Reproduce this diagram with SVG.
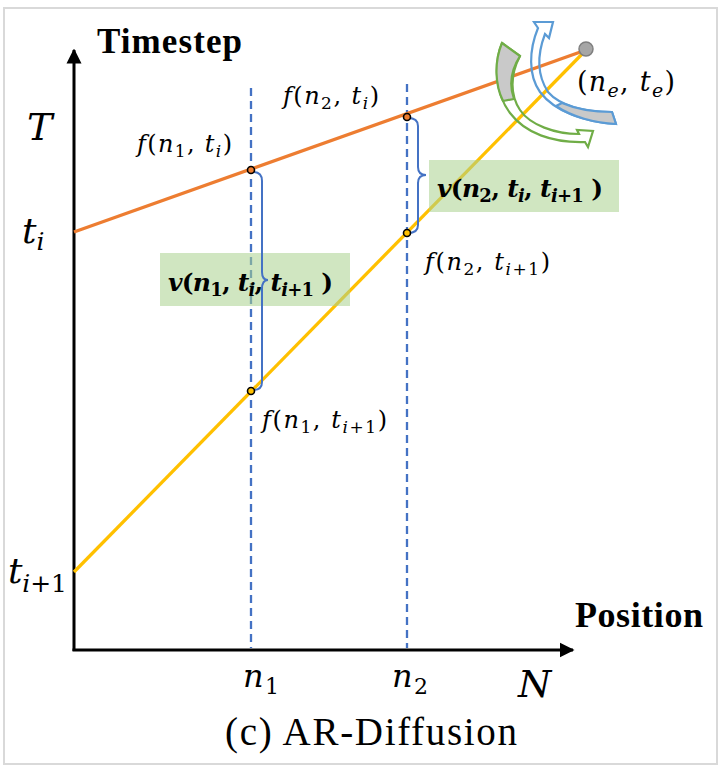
<svg xmlns="http://www.w3.org/2000/svg" width="724" height="766" viewBox="0 0 724 766">
<style>
.m{font-family:"DejaVu Serif","Liberation Serif",serif;fill:#000}
.it{font-style:italic}
.b{font-weight:bold}
.tt{font-family:"Liberation Serif","Times New Roman",serif;fill:#000}
.dash{stroke:#4472C4;stroke-width:2.3;stroke-dasharray:8 5;fill:none}
.brace{stroke:#4472C4;stroke-width:2;fill:none}
.pt{stroke:#000;stroke-width:1.6}
.box{fill:#A9D18E;opacity:0.55}
</style>
<defs>
<marker id="ah" viewBox="0 0 10 10" refX="9" refY="5" markerWidth="5" markerHeight="5.2" orient="auto" markerUnits="strokeWidth">
<path d="M0,0 L10,5 L0,10 Z" fill="#000"/>
</marker>
</defs>
<rect x="4" y="8" width="713" height="756" fill="#fff" stroke="#D9D9D9" stroke-width="2"/>

<g id="axes">
<line x1="74" y1="651" x2="74" y2="50" stroke="#000" stroke-width="3" marker-end="url(#ah)"/>
<line x1="72.5" y1="650" x2="573" y2="650" stroke="#000" stroke-width="3" marker-end="url(#ah)"/>
</g>

<g id="connectors">
<line class="dash" x1="251" y1="88" x2="251" y2="648"/>
<line class="dash" x1="407" y1="84" x2="407" y2="648"/>
<line x1="74" y1="232" x2="586" y2="50" stroke="#ED7D31" stroke-width="3.3"/>
<line x1="74" y1="572" x2="586" y2="50" stroke="#FFC000" stroke-width="3.3"/>
</g>

<g id="box1"><rect class="box" x="160" y="253" width="190" height="53"/></g>
<g id="box2"><rect class="box" x="429" y="160" width="190" height="52"/></g>

<g id="braces">
<path class="brace" d="M253,172 Q262,172 262,181 L262,272 Q262,280 268,280 Q262,280 262,289 L262,382 Q262,390 253,390"/>
<path class="brace" d="M408,118 Q418,118 418,126 L418,167 Q418,175 426,175 Q418,175 418,183 L418,225 Q418,233 408,233"/>
</g>

<g id="points">
<circle class="pt" cx="251" cy="170" r="3.5" fill="#ED7D31"/>
<circle class="pt" cx="407" cy="117" r="3.5" fill="#ED7D31"/>
<circle class="pt" cx="251" cy="391" r="3.5" fill="#FFC000"/>
<circle class="pt" cx="407" cy="233" r="3.5" fill="#FFC000"/>
</g>

<g id="end-arrows">
<path d="M502,43 C493,65 496,95 510,113 C525,133 552,143 585,142 L588,147 L593,131 L577,130 L579,134 C555,134 530,125 520,110 C510,95 510,75 520,56 Z" fill="none" stroke="#70AD47" stroke-width="2.2"/>
<path d="M502,43 C494,62 495,85 503,101 L514,99 C509,85 511,70 520,56 Z" fill="#C9C9C9" stroke="#70AD47" stroke-width="2.2" stroke-linejoin="round"/>
<path d="M616,124 C585,122 555,112 540,92 C528,75 529,50 538,28 L534,22 L553,22 L549,38 L545,34 C537,55 537,75 548,92 C560,106 585,112 612,112 Z" fill="none" stroke="#5B9BD5" stroke-width="2.2"/>
<path d="M616,124 C595,123 572,117 556,106 L562,103 C578,110 595,112 612,112 Z" fill="#C9C9C9" stroke="#5B9BD5" stroke-width="2.2" stroke-linejoin="round"/>
</g>

<g id="end-node">
<circle cx="586" cy="49" r="7" fill="#A6A6A6" stroke="#7F7F7F" stroke-width="1.5"/>
<text class="m" x="577" y="91" font-size="27" textLength="98"><tspan>(</tspan><tspan class="it">n</tspan><tspan class="it" font-size="19" dy="6">e</tspan><tspan dy="-6">, </tspan><tspan class="it">t</tspan><tspan class="it" font-size="19" dy="6">e</tspan><tspan dy="-6">)</tspan></text>
</g>

<g id="axis-labels">
<text class="tt b" x="97" y="53" font-size="35" textLength="145">Timestep</text>
<text class="tt b" x="575" y="627" font-size="36" textLength="128">Position</text>
<text class="m it" x="27" y="140" font-size="38">T</text>
<text class="m" x="22" y="243" font-size="36"><tspan class="it">t</tspan><tspan class="it" font-size="25" dy="7">i</tspan></text>
<text class="m" x="8" y="583" font-size="36" textLength="59"><tspan class="it">t</tspan><tspan font-size="25" dy="9"><tspan class="it">i</tspan>+1</tspan></text>
<text class="m" x="243" y="687" font-size="32" textLength="36"><tspan class="it">n</tspan><tspan font-size="22" dy="7">1</tspan></text>
<text class="m" x="392" y="687" font-size="32" textLength="36"><tspan class="it">n</tspan><tspan font-size="22" dy="7">2</tspan></text>
<text class="m it" x="518" y="697" font-size="38">N</text>
</g>

<g id="point-labels">
<text class="m" x="137" y="152" font-size="24" textLength="95"><tspan class="it">f</tspan>(<tspan class="it">n</tspan><tspan font-size="17" dy="5">1</tspan><tspan dy="-5">, </tspan><tspan class="it">t</tspan><tspan class="it" font-size="17" dy="5">i</tspan><tspan dy="-5">)</tspan></text>
<text class="m" x="283" y="104" font-size="24" textLength="96"><tspan class="it">f</tspan>(<tspan class="it">n</tspan><tspan font-size="17" dy="5">2</tspan><tspan dy="-5">, </tspan><tspan class="it">t</tspan><tspan class="it" font-size="17" dy="5">i</tspan><tspan dy="-5">)</tspan></text>
<text class="m" x="425" y="270" font-size="24" textLength="125"><tspan class="it">f</tspan>(<tspan class="it">n</tspan><tspan font-size="17" dy="5">2</tspan><tspan dy="-5">, </tspan><tspan class="it">t</tspan><tspan font-size="17" dy="5"><tspan class="it">i</tspan>+1</tspan><tspan dy="-5">)</tspan></text>
<text class="m" x="262" y="428" font-size="24" textLength="125"><tspan class="it">f</tspan>(<tspan class="it">n</tspan><tspan font-size="17" dy="5">1</tspan><tspan dy="-5">, </tspan><tspan class="it">t</tspan><tspan font-size="17" dy="5"><tspan class="it">i</tspan>+1</tspan><tspan dy="-5">)</tspan></text>
</g>

<g id="v-labels">
<text class="m b" x="168" y="291" font-size="25" textLength="165"><tspan class="it">v</tspan>(<tspan class="it">n</tspan><tspan font-size="18" dy="5">1</tspan><tspan dy="-5">, </tspan><tspan class="it">t</tspan><tspan class="it" font-size="18" dy="5">i</tspan><tspan dy="-5">, </tspan><tspan class="it">t</tspan><tspan font-size="18" dy="5"><tspan class="it">i</tspan>+1</tspan><tspan dy="-5"> )</tspan></text>
<text class="m b" x="437" y="197" font-size="25" textLength="166"><tspan class="it">v</tspan>(<tspan class="it">n</tspan><tspan font-size="18" dy="5">2</tspan><tspan dy="-5">, </tspan><tspan class="it">t</tspan><tspan class="it" font-size="18" dy="5">i</tspan><tspan dy="-5">, </tspan><tspan class="it">t</tspan><tspan font-size="18" dy="5"><tspan class="it">i</tspan>+1</tspan><tspan dy="-5"> )</tspan></text>
</g>

<g id="caption">
<text class="tt" x="225" y="745" font-size="39" textLength="292">(c) AR-Diffusion</text>
</g>
</svg>
